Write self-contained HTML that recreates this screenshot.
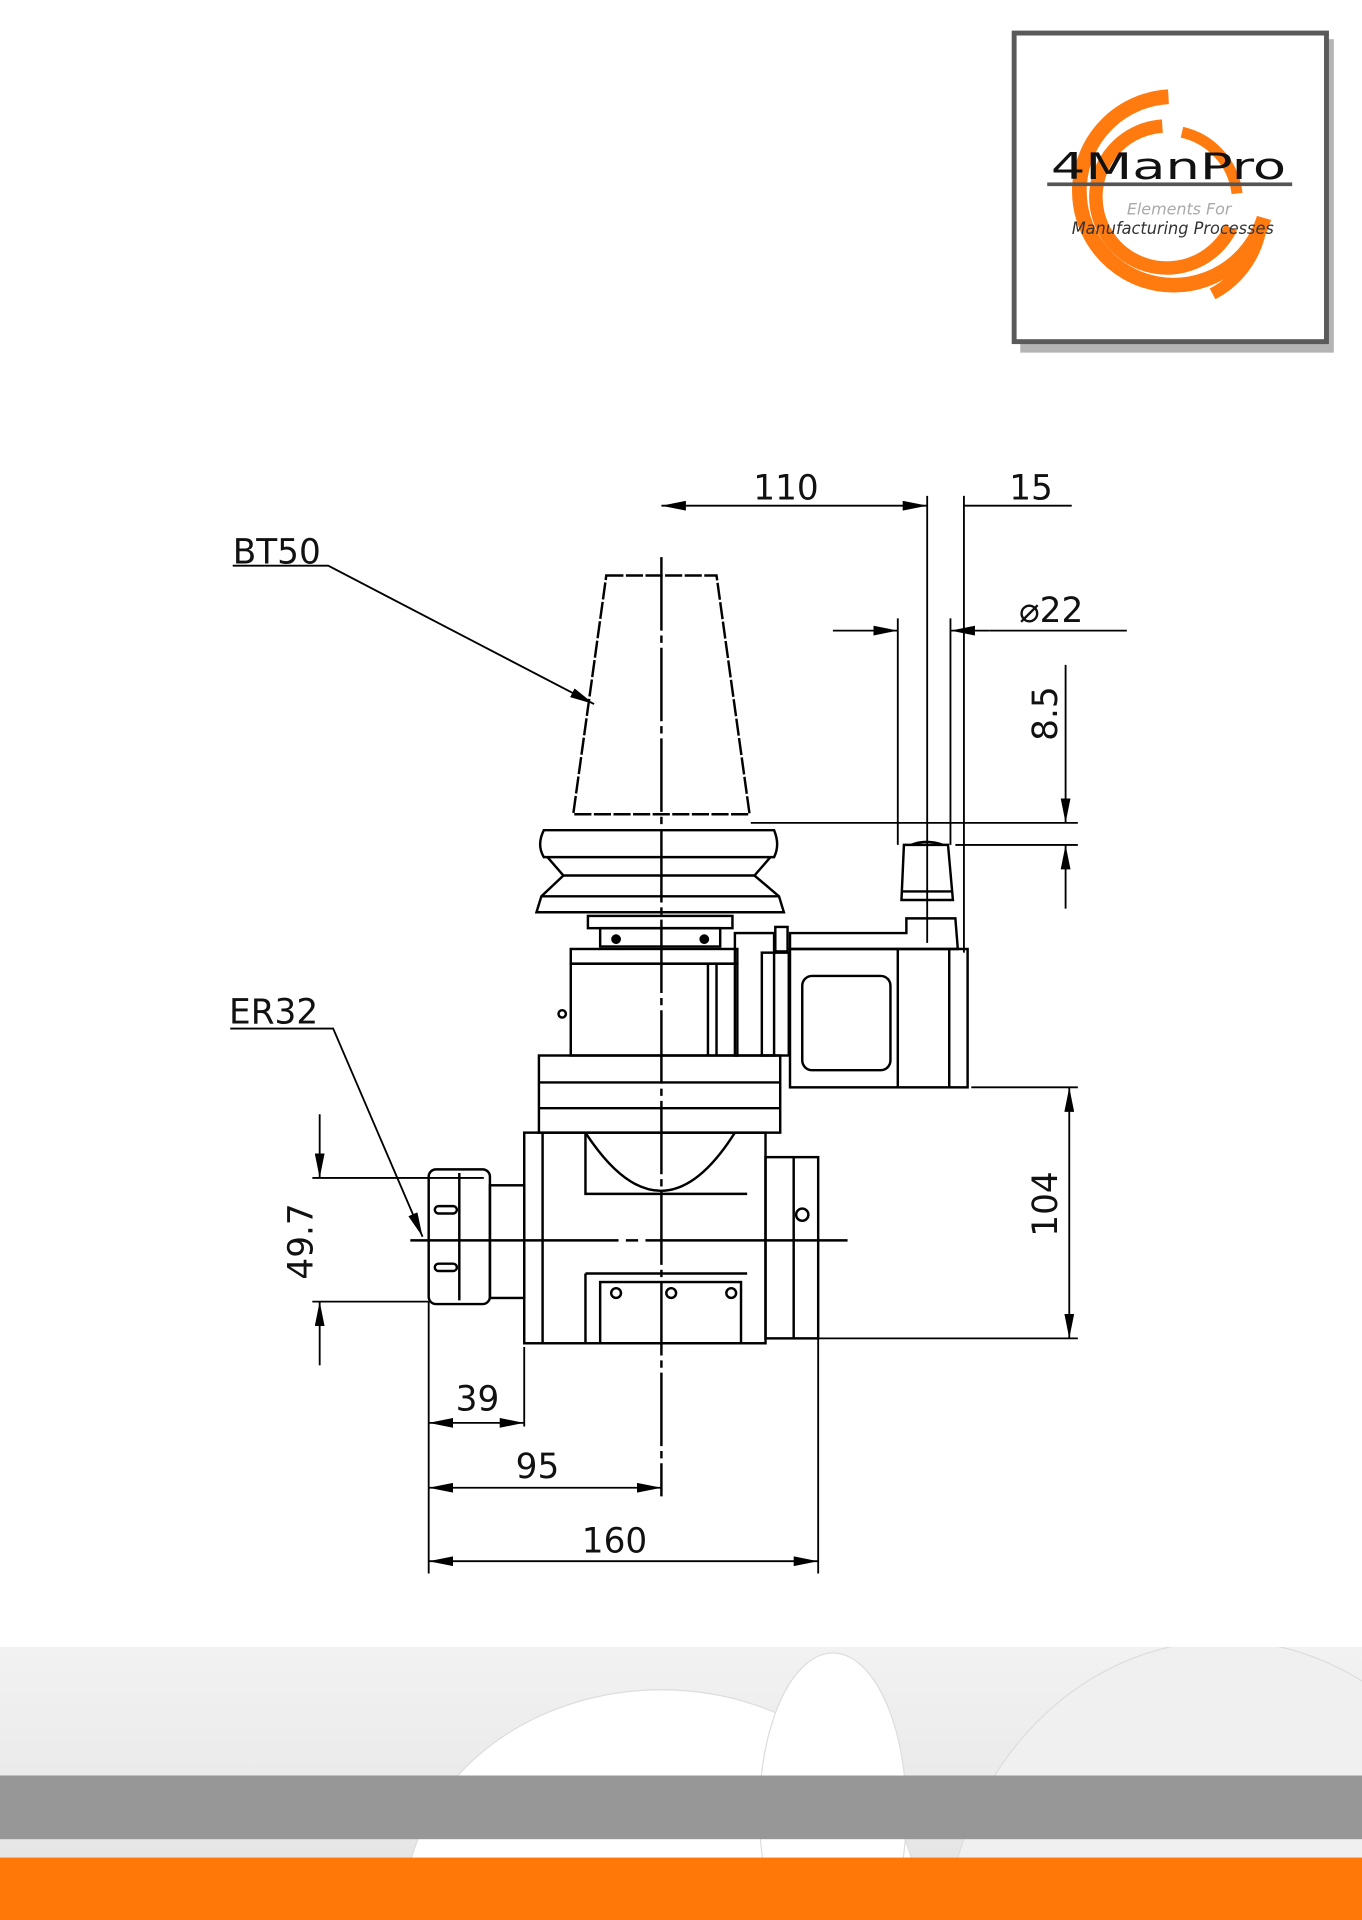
<!DOCTYPE html>
<html><head><meta charset="utf-8"><style>
html,body{margin:0;padding:0;background:#fff;width:1362px;height:1920px;overflow:hidden;}
svg{display:block;}
text{font-family:"DejaVu Sans","Liberation Sans",sans-serif;}
</style></head><body>
<svg width="1362" height="1920" viewBox="0 0 1112 1568" preserveAspectRatio="none" xmlns="http://www.w3.org/2000/svg">
<defs>
<marker id="a" viewBox="0 0 20 8" refX="20" refY="4" markerWidth="20" markerHeight="8" markerUnits="userSpaceOnUse" orient="auto-start-reverse"><path d="M0,0 L20,4 L0,8 z" fill="#000"/></marker>
<linearGradient id="bg" x1="0" y1="0" x2="0" y2="1"><stop offset="0" stop-color="#f2f2f2"/><stop offset="1" stop-color="#e6e6e6"/></linearGradient>
<clipPath id="bc"><rect x="0" y="1345" width="1112" height="172"/></clipPath>
</defs>

<!-- Logo -->
<rect x="833" y="32" width="256" height="256" fill="#777" opacity="0.55"/>
<rect x="828" y="27" width="255" height="252" fill="#fff" stroke="#5a5a5a" stroke-width="4"/>
<g fill="none" stroke="#ff7b0f">
<path d="M954,79 A77,77 0 1 0 1032,178" stroke-width="12"/>
<path d="M949,103 A58,58 0 1 0 1005,186" stroke-width="11"/>
<path d="M965,108 A58,58 0 0 1 1010,158" stroke-width="9"/>
<path d="M990,240 A75,75 0 0 0 1030,180" stroke-width="10"/>
</g>
<text x="858" y="146" font-family="Liberation Serif,serif" font-size="30" fill="#111" textLength="192" lengthAdjust="spacingAndGlyphs">4ManPro</text>
<rect x="855" y="149" width="200" height="3" fill="#555"/>
<text x="920" y="175" font-family="Liberation Serif,serif" font-style="italic" font-size="13" fill="#aaa">Elements For</text>
<text x="875" y="191" font-family="Liberation Serif,serif" font-style="italic" font-size="14" fill="#333" textLength="165" lengthAdjust="spacingAndGlyphs">Manufacturing Processes</text>

<!-- Bottom background -->
<rect x="0" y="1345" width="1112" height="172" fill="url(#bg)"/>
<g clip-path="url(#bc)" fill="#fff" stroke="#ddd" stroke-width="1">
<ellipse cx="540" cy="1560" rx="210" ry="180"/>
<ellipse cx="1000" cy="1600" rx="230" ry="260" fill="#f0f0f0"/>
<ellipse cx="680" cy="1480" rx="60" ry="130"/>
</g>
<rect x="0" y="1450" width="1112" height="52" fill="#979797"/>
<rect x="0" y="1517" width="1112" height="51" fill="#ff7808"/>

<!-- Drawing -->
<g fill="none" stroke="#000" stroke-width="2">
<line x1="540" y1="455" x2="540" y2="1222" stroke-dasharray="60,4,6,4"/>
<line x1="335" y1="1013" x2="692" y2="1013" stroke-dasharray="170,6,10,6"/>
<path d="M495,470 L585,470 L612,665 L468,665 Z" stroke-dasharray="14,2"/>
<path d="M444,678 L632,678 Q637,690 632,700 L444,700 Q438,690 444,678 Z"/>
<path d="M447,700 L460,715 L616,715 L629,700"/>
<path d="M460,715 L442,732 L438,745 L640,745 L636,732 L616,715"/>
<line x1="442" y1="732" x2="636" y2="732"/>
<rect x="480" y="748" width="118" height="10"/>
<rect x="490" y="758" width="98" height="15"/>
<circle cx="503" cy="767" r="3" fill="#000"/><circle cx="575" cy="767" r="3" fill="#000"/>
<rect x="466" y="775" width="136" height="12"/>
<rect x="466" y="787" width="136" height="75"/>
<line x1="578" y1="787" x2="578" y2="862"/><line x1="585" y1="787" x2="585" y2="862"/>
<circle cx="459" cy="828" r="3"/>
<rect x="600" y="762" width="32" height="100"/>
<rect x="622" y="778" width="22" height="84"/>
<rect x="633" y="757" width="10" height="20"/>
<path d="M645,762 L740,762 L740,750 L780,750 L782,775 L645,775 Z"/>
<rect x="645" y="775" width="145" height="113"/>
<rect x="655" y="797" width="72" height="77" rx="8"/>
<line x1="733" y1="775" x2="733" y2="888"/><line x1="775" y1="775" x2="775" y2="888"/>
<path d="M738,690 L774,690 L778,735 L736,735 Z"/>
<path d="M744,690 Q756,685 770,690"/>
<line x1="736" y1="728" x2="778" y2="728"/>
<rect x="440" y="862" width="197" height="63"/>
<line x1="440" y1="884" x2="637" y2="884"/><line x1="440" y1="905" x2="637" y2="905"/>
<rect x="428" y="925" width="197" height="172"/>
<line x1="443" y1="925" x2="443" y2="1097"/>
<path d="M478,925 Q540,1020 600,925"/>
<path d="M478,925 L478,975 L610,975"/>
<path d="M478,1040 L478,1097 M478,1040 L610,1040"/>
<rect x="490" y="1047" width="115" height="50"/>
<circle cx="503" cy="1056" r="4"/><circle cx="548" cy="1056" r="4"/><circle cx="597" cy="1056" r="4"/>
<rect x="625" y="945" width="43" height="148"/>
<line x1="648" y1="945" x2="648" y2="1093"/>
<circle cx="655" cy="992" r="5"/>
<rect x="400" y="968" width="28" height="92"/>
<rect x="350" y="955" width="50" height="110" rx="6"/>
<line x1="375" y1="958" x2="375" y2="1062"/>
<rect x="355" y="985" width="18" height="6" rx="3"/><rect x="355" y="1032" width="18" height="6" rx="3"/>

<g stroke-width="1.5">
<line x1="540" y1="413" x2="757" y2="413" marker-start="url(#a)" marker-end="url(#a)"/>
<line x1="787" y1="413" x2="875" y2="413"/>
<line x1="757" y1="405" x2="757" y2="770"/>
<line x1="787" y1="405" x2="787" y2="778"/>
<line x1="680" y1="515" x2="733" y2="515" marker-end="url(#a)"/>
<line x1="808" y1="515" x2="776" y2="515" marker-end="url(#a)"/>
<line x1="808" y1="515" x2="920" y2="515"/>
<line x1="733" y1="505" x2="733" y2="690"/>
<line x1="776" y1="505" x2="776" y2="690"/>
<line x1="870" y1="543" x2="870" y2="672" marker-end="url(#a)"/>
<line x1="870" y1="742" x2="870" y2="690" marker-end="url(#a)"/>
<line x1="613" y1="672" x2="880" y2="672"/>
<line x1="780" y1="690" x2="880" y2="690"/>
<line x1="793" y1="888" x2="880" y2="888"/>
<line x1="667" y1="1093" x2="880" y2="1093"/>
<line x1="873" y1="888" x2="873" y2="1093" marker-start="url(#a)" marker-end="url(#a)"/>
<line x1="261" y1="910" x2="261" y2="962" marker-end="url(#a)"/>
<line x1="261" y1="1115" x2="261" y2="1063" marker-end="url(#a)"/>
<line x1="255" y1="962" x2="395" y2="962"/>
<line x1="255" y1="1063" x2="350" y2="1063"/>
<line x1="350" y1="1063" x2="350" y2="1285"/>
<line x1="428" y1="1100" x2="428" y2="1165"/>
<line x1="668" y1="1093" x2="668" y2="1285"/>
<line x1="350" y1="1162" x2="428" y2="1162" marker-start="url(#a)" marker-end="url(#a)"/>
<line x1="350" y1="1215" x2="540" y2="1215" marker-start="url(#a)" marker-end="url(#a)"/>
<line x1="350" y1="1275" x2="668" y2="1275" marker-start="url(#a)" marker-end="url(#a)"/>
<path d="M190,462 L268,462 L485,575" marker-end="url(#a)"/>
<path d="M188,840 L272,840 L345,1010" marker-end="url(#a)"/>
</g>
</g>
<g font-size="28" fill="#111">
<text x="190" y="460">BT50</text>
<text x="187" y="836">ER32</text>
<text x="615" y="408">110</text>
<text x="824" y="408">15</text>
<text x="832" y="508">⌀22</text>
<text x="372" y="1152">39</text>
<text x="421" y="1207">95</text>
<text x="475" y="1268">160</text>
<text transform="translate(863,605) rotate(-90)">8.5</text>
<text transform="translate(863,1010) rotate(-90)">104</text>
<text transform="translate(255,1045) rotate(-90)">49.7</text>
</g>
</svg>
</body></html>
